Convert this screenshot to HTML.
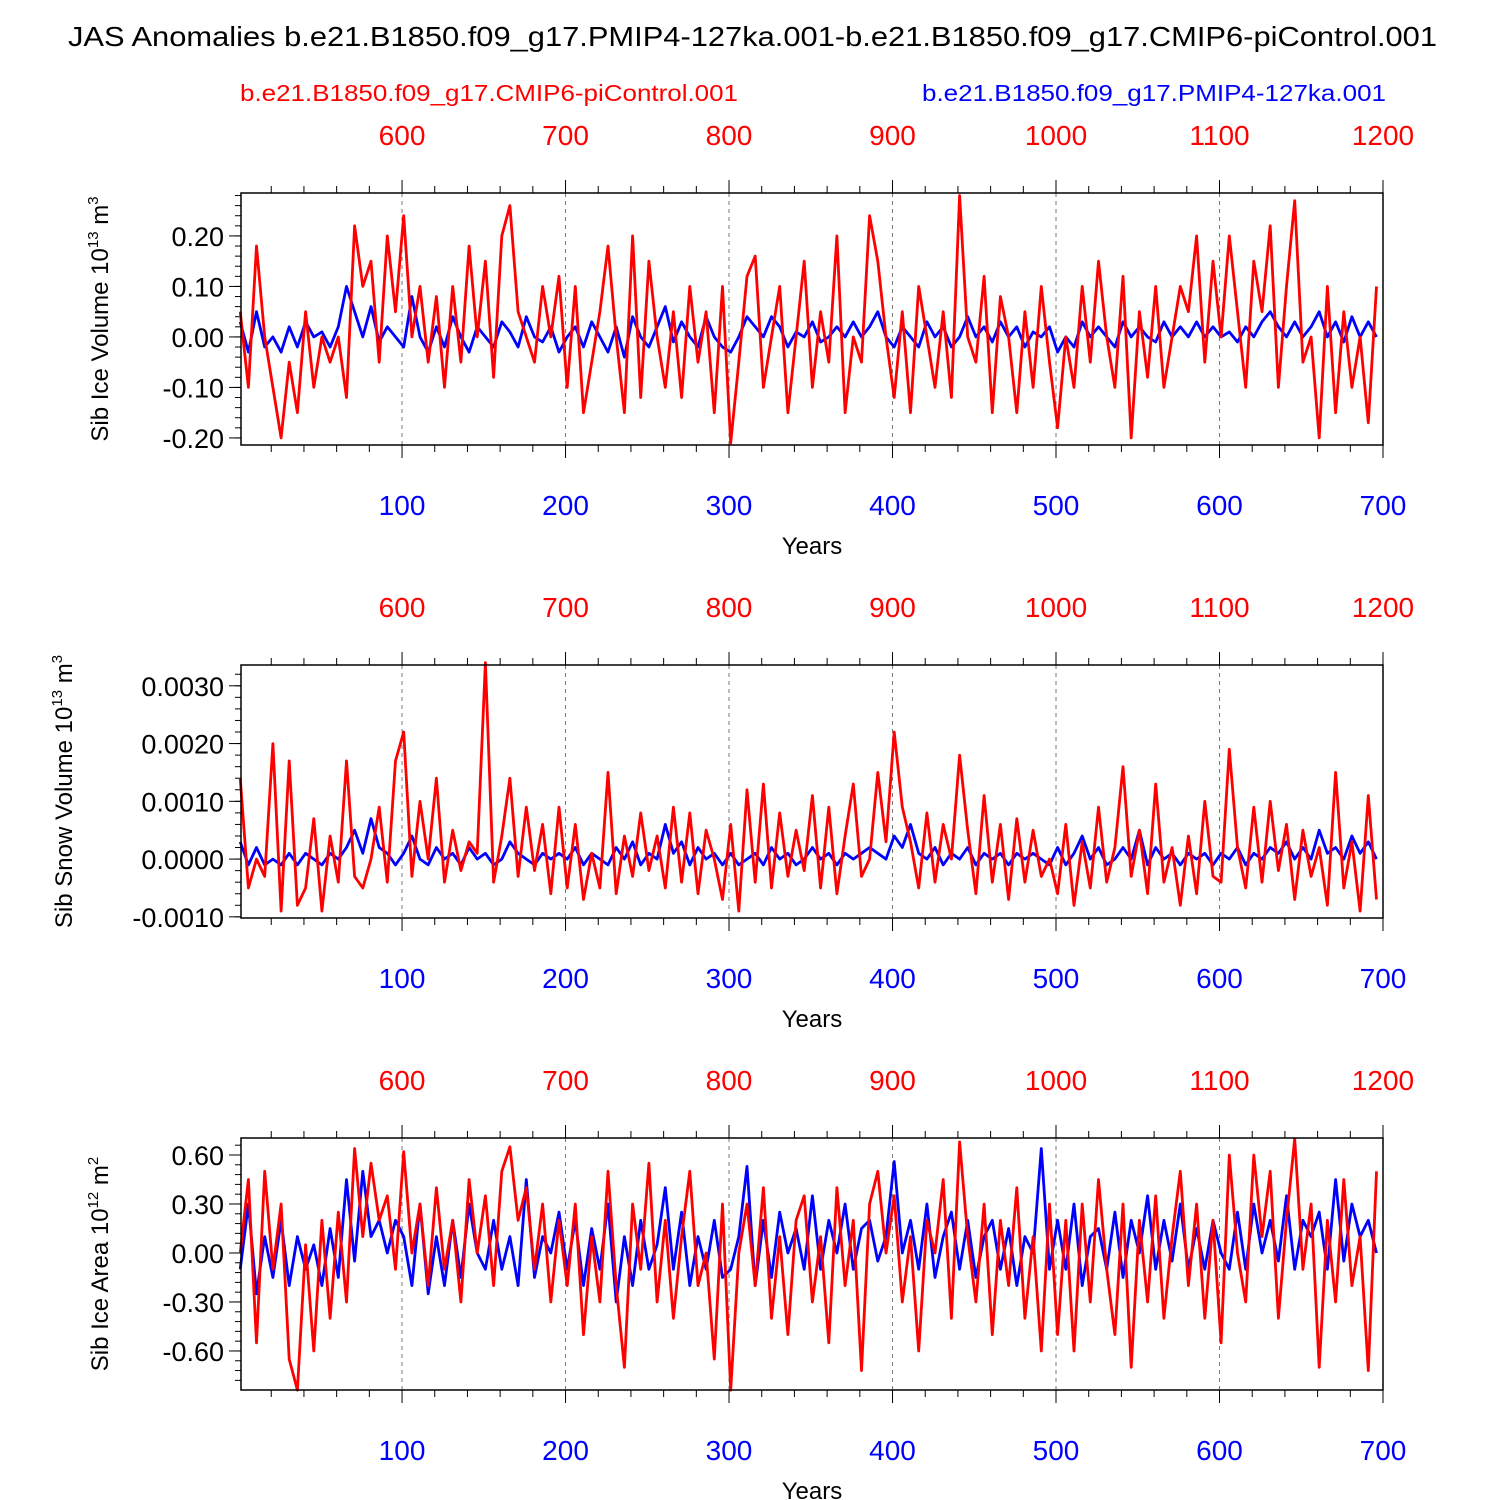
<!DOCTYPE html>
<html><head><meta charset="utf-8"><style>
html,body{margin:0;padding:0;background:#fff;}
svg{display:block;font-family:"Liberation Sans",sans-serif;}
</style></head><body>
<svg id="chart" width="1500" height="1500" viewBox="0 0 1500 1500">
<text x="68" y="46" font-size="28" textLength="1369" lengthAdjust="spacingAndGlyphs" fill="#000">JAS Anomalies b.e21.B1850.f09_g17.PMIP4-127ka.001-b.e21.B1850.f09_g17.CMIP6-piControl.001</text>
<text x="240" y="101" font-size="23" textLength="498" lengthAdjust="spacingAndGlyphs" fill="#ff0000">b.e21.B1850.f09_g17.CMIP6-piControl.001</text>
<text x="922" y="101" font-size="23" textLength="464" lengthAdjust="spacingAndGlyphs" fill="#0000ff">b.e21.B1850.f09_g17.PMIP4-127ka.001</text>
</svg>
<script>
const redIceVol=[0.05,-0.1,0.18,0.0,-0.1,-0.2,-0.05,-0.15,0.05,-0.1,0.0,-0.05,0.0,-0.12,0.22,0.1,0.15,-0.05,0.2,0.05,
0.24,0.0,0.1,-0.05,0.08,-0.1,0.1,-0.05,0.18,0.0,0.15,-0.08,0.2,0.26,0.05,0.0,-0.05,0.1,0.0,0.12,
-0.1,0.1,-0.15,-0.05,0.05,0.18,0.0,-0.15,0.2,-0.12,0.15,0.0,-0.1,0.05,-0.12,0.1,-0.05,0.05,-0.15,0.1,
-0.21,-0.05,0.12,0.16,-0.1,0.0,0.1,-0.15,0.0,0.15,-0.1,0.05,-0.05,0.2,-0.15,0.0,-0.05,0.24,0.15,0.0,
-0.12,0.05,-0.15,0.1,0.0,-0.1,0.05,-0.12,0.28,0.0,-0.05,0.12,-0.15,0.08,0.0,-0.15,0.05,-0.1,0.1,-0.05,
-0.18,0.0,-0.1,0.1,-0.05,0.15,0.0,-0.1,0.12,-0.2,0.05,-0.08,0.1,-0.1,0.0,0.1,0.05,0.2,-0.05,0.15,
0.0,0.2,0.05,-0.1,0.15,0.05,0.22,-0.1,0.1,0.27,-0.05,0.0,-0.2,0.1,-0.15,0.05,-0.1,0.0,-0.17,0.1];
const blueIceVol=[0.03,-0.03,0.05,-0.02,0.0,-0.03,0.02,-0.02,0.03,0.0,0.01,-0.02,0.02,0.1,0.05,0.0,0.06,-0.01,0.02,0.0,
-0.02,0.08,0.0,-0.03,0.02,-0.02,0.04,0.0,-0.03,0.02,0.0,-0.02,0.03,0.01,-0.02,0.04,0.0,-0.01,0.02,-0.03,
0.0,0.02,-0.02,0.03,0.0,-0.03,0.02,-0.04,0.04,0.0,-0.02,0.02,0.06,-0.01,0.03,0.0,-0.02,0.04,0.0,-0.02,
-0.03,0.0,0.04,0.02,0.0,0.04,0.02,-0.02,0.01,0.0,0.03,-0.01,0.0,0.02,0.0,0.03,0.0,0.02,0.05,0.0,
-0.02,0.02,0.0,-0.02,0.03,0.0,0.02,-0.02,0.0,0.04,0.0,0.02,-0.01,0.03,0.0,0.02,-0.02,0.01,0.0,0.02,
-0.03,0.0,-0.02,0.03,0.0,0.02,0.0,-0.02,0.03,0.0,0.02,0.0,-0.01,0.03,0.0,0.02,0.0,0.03,0.0,0.02,
0.0,0.01,-0.01,0.02,0.0,0.03,0.05,0.02,0.0,0.03,0.0,0.02,0.05,0.0,0.03,-0.01,0.04,0.0,0.03,0.0];
const redSnowVol=[0.0014,-0.0005,0.0,-0.0003,0.002,-0.0009,0.0017,-0.0008,-0.0005,0.0007,-0.0009,0.0004,-0.0004,0.0017,-0.0003,-0.0005,0.0,0.0009,-0.0004,0.0017,
0.0022,-0.0003,0.001,0.0,0.0014,-0.0004,0.0005,-0.0002,0.0003,0.0001,0.0034,-0.0004,0.0004,0.0014,-0.0003,0.0009,-0.0002,0.0006,-0.0006,0.0009,
-0.0005,0.0006,-0.0007,0.0001,-0.0005,0.0015,-0.0006,0.0004,-0.0003,0.0008,-0.0002,0.0004,-0.0005,0.0009,-0.0004,0.0008,-0.0006,0.0005,0.0,-0.0007,
0.0006,-0.0009,0.0012,-0.0004,0.0013,-0.0005,0.0008,-0.0003,0.0005,-0.0002,0.0011,-0.0005,0.0009,-0.0006,0.0004,0.0013,-0.0003,0.0,0.0015,0.0003,
0.0022,0.0009,0.0003,-0.0005,0.0008,-0.0004,0.0006,0.0,0.0018,0.0005,-0.0006,0.0011,-0.0004,0.0006,-0.0007,0.0007,-0.0004,0.0005,-0.0003,0.0,
-0.0006,0.0006,-0.0008,0.0003,-0.0005,0.0009,-0.0004,0.0002,0.0016,-0.0003,0.0005,-0.0006,0.0013,-0.0004,0.0002,-0.0008,0.0004,-0.0006,0.001,-0.0003,
-0.0004,0.0019,0.0002,-0.0005,0.0009,-0.0004,0.001,-0.0002,0.0006,-0.0007,0.0005,-0.0003,0.0002,-0.0008,0.0015,-0.0005,0.0003,-0.0009,0.0011,-0.0007];
const blueSnowVol=[0.0003,-0.0001,0.0002,-0.0001,0.0,-0.0001,0.0001,-0.0001,0.0001,0.0,-0.0001,0.0001,0.0,0.0002,0.0005,0.0001,0.0007,0.0002,0.0001,-0.0001,
0.0001,0.0004,0.0,-0.0001,0.0002,0.0,0.0001,-0.0001,0.0002,0.0,0.0001,-0.0001,0.0,0.0003,0.0001,0.0,-0.0001,0.0001,0.0,0.0001,
0.0,0.0002,-0.0001,0.0001,0.0,-0.0001,0.0002,0.0,0.0003,-0.0001,0.0001,0.0,0.0006,0.0001,0.0003,-0.0001,0.0002,0.0,0.0001,-0.0001,
0.0001,-0.0001,0.0,0.0001,-0.0001,0.0002,0.0,0.0001,-0.0001,0.0,0.0002,0.0,0.0001,-0.0001,0.0001,0.0,0.0001,0.0002,0.0001,0.0,
0.0004,0.0002,0.0006,0.0001,0.0,0.0002,-0.0001,0.0001,0.0,0.0002,-0.0001,0.0001,0.0,0.0001,-0.0001,0.0001,0.0,0.0001,0.0,-0.0001,
0.0002,-0.0001,0.0001,0.0004,0.0,0.0002,-0.0001,0.0,0.0002,0.0,0.0005,-0.0001,0.0002,0.0,0.0001,-0.0001,0.0001,0.0,0.0001,-0.0001,
0.0001,0.0,0.0002,-0.0001,0.0001,0.0,0.0002,0.0001,0.0003,0.0,0.0002,0.0,0.0005,0.0001,0.0002,0.0,0.0004,0.0001,0.0003,0.0];
const redIceArea=[0.0,0.45,-0.55,0.5,-0.1,0.3,-0.65,-0.84,0.05,-0.6,0.2,-0.4,0.25,-0.3,0.64,0.1,0.55,0.2,0.35,-0.1,
0.62,0.0,0.3,-0.2,0.4,-0.1,0.2,-0.3,0.45,0.0,0.35,-0.2,0.5,0.65,0.2,0.4,-0.1,0.3,-0.3,0.2,
-0.2,0.3,-0.5,0.1,-0.3,0.5,-0.2,-0.7,0.3,-0.1,0.55,-0.3,0.2,-0.4,0.1,0.5,-0.2,0.0,-0.65,0.3,
-0.84,0.0,0.3,-0.2,0.4,-0.4,0.1,-0.5,0.2,0.35,-0.3,0.1,-0.55,0.4,-0.2,0.2,-0.72,0.3,0.5,0.0,
0.35,-0.3,0.1,-0.6,0.2,0.0,0.45,-0.4,0.68,0.1,-0.3,0.3,-0.5,0.2,-0.2,0.4,-0.4,0.1,-0.6,0.3,
-0.5,0.2,-0.6,0.3,-0.3,0.45,-0.1,-0.5,0.3,-0.7,0.2,-0.3,0.35,-0.4,0.1,0.5,-0.2,0.3,-0.4,0.2,
-0.55,0.6,0.0,-0.3,0.6,0.1,0.5,-0.4,0.2,0.7,-0.1,0.3,-0.7,0.2,-0.3,0.45,-0.2,0.1,-0.72,0.5];
const blueIceArea=[-0.1,0.3,-0.25,0.1,-0.15,0.2,-0.2,0.1,-0.1,0.05,-0.2,0.15,-0.15,0.45,-0.05,0.5,0.1,0.2,0.0,0.2,
0.1,-0.2,0.3,-0.25,0.1,-0.2,0.2,-0.15,0.3,0.0,-0.1,0.2,-0.1,0.1,-0.2,0.45,-0.15,0.1,0.0,0.25,
-0.1,0.2,-0.2,0.15,-0.1,0.3,-0.3,0.1,-0.2,0.2,-0.1,0.05,0.4,-0.1,0.25,-0.2,0.1,-0.1,0.2,-0.15,
-0.1,0.1,0.53,-0.2,0.2,-0.15,0.25,0.0,0.15,-0.1,0.35,-0.1,0.2,0.0,0.3,-0.1,0.15,0.2,-0.05,0.1,
0.56,0.0,0.2,-0.1,0.3,-0.15,0.1,0.25,-0.1,0.2,-0.15,0.1,0.2,-0.1,0.15,-0.2,0.1,0.0,0.64,-0.1,
0.2,-0.1,0.3,-0.2,0.1,0.15,-0.1,0.25,-0.15,0.2,0.0,0.35,-0.1,0.2,-0.05,0.3,-0.1,0.15,-0.1,0.2,
0.0,-0.1,0.25,-0.1,0.3,0.0,0.2,-0.05,0.35,-0.1,0.2,0.1,0.25,-0.1,0.45,-0.05,0.3,0.1,0.2,0.0];
const bottomTicks=[100,200,300,400,500,600,700];
const topTicks=[600,700,800,900,1000,1100,1200];
const ticks1=[-0.2,-0.1,0,0.1,0.2], labels1=["-0.20","-0.10","0.00","0.10","0.20"];
const ticks2=[-0.001,0,0.001,0.002,0.003], labels2=["-0.0010","0.0000","0.0010","0.0020","0.0030"];
const ticks3=[-0.6,-0.3,0,0.3,0.6], labels3=["-0.60","-0.30","0.00","0.30","0.60"];

const NS="http://www.w3.org/2000/svg", svg=document.getElementById('chart');
function mk(tag,attrs,parent){const e=document.createElementNS(NS,tag);for(const k in attrs)e.setAttribute(k,attrs[k]);(parent||svg).appendChild(e);return e;}
const X0=241,X1=1383,yrMin=1.5,yrMax=700;
const xs=v=>X0+(v-yrMin)/(yrMax-yrMin)*(X1-X0);

function panel(p){
  const g=mk('g',{});
  
  
  const ys=v=>p.top+(p.ymax-v)/(p.ymax-p.ymin)*(p.bot-p.top);
  bottomTicks.slice(0,6).forEach(t=>{const l=mk('line',{x1:xs(t),x2:xs(t),y1:p.top,y2:p.bot,stroke:'#777','stroke-width':1,'stroke-dasharray':'4,4'},g);
    });
  for(let t=20;t<=700;t+=20){if(t%100===0)continue;
    mk('line',{x1:xs(t),x2:xs(t),y1:p.bot,y2:p.bot+7,stroke:'#000','stroke-width':1},g);
    mk('line',{x1:xs(t),x2:xs(t),y1:p.top,y2:p.top-7,stroke:'#000','stroke-width':1},g);}
  bottomTicks.forEach(t=>{mk('line',{x1:xs(t),x2:xs(t),y1:p.bot,y2:p.bot+13,stroke:'#000','stroke-width':1},g);
    const tx=mk('text',{x:xs(t),y:p.bot+70,'font-size':28,'text-anchor':'middle',fill:'#0000ff'},g);tx.textContent=t;
    });
  topTicks.forEach(t=>{const x=xs(t-500);mk('line',{x1:x,x2:x,y1:p.top,y2:p.top-13,stroke:'#000','stroke-width':1},g);
    const tx=mk('text',{x:x,y:p.top-48,'font-size':28,'text-anchor':'middle',fill:'#ff0000'},g);tx.textContent=t;
    });
  const step=(p.ticks[1]-p.ticks[0])/5;
  for(let v=p.ticks[0]-5*step;v<=p.ymax+1e-12;v+=step){if(v<p.ymin-1e-12)continue;
    mk('line',{x1:X0,x2:X0-6,y1:ys(v),y2:ys(v),stroke:'#000','stroke-width':1},g);}
  p.ticks.forEach((v,i)=>{mk('line',{x1:X0,x2:X0-12,y1:ys(v),y2:ys(v),stroke:'#000','stroke-width':1},g);
    const tx=mk('text',{x:X0-17,y:ys(v)+10,'font-size':27,'text-anchor':'end',fill:'#000'},g);tx.textContent=p.labels[i];
    });
  [[p.blue,'#0000ff','pmip-line'],[p.red,'#ff0000','control-line']].forEach(([arr,c,n])=>{
    const d=arr.map((v,i)=>(i?'L':'M')+xs(1+5*i).toFixed(1)+','+ys(v).toFixed(1)).join('');
    const path=mk('path',{d:d,fill:'none',stroke:c,'stroke-width':2.8,'stroke-linejoin':'round'},g);
    
    
  });
  const fr=mk('rect',{x:X0,y:p.top,width:X1-X0,height:p.bot-p.top,fill:'none',stroke:'#000','stroke-width':1.5},g);
  
  const xl=mk('text',{x:812,y:p.bot+109,'font-size':24,'text-anchor':'middle',fill:'#000'},g);xl.textContent='Years';
  
  const yt=mk('text',{transform:`translate(${p.ytx},${(p.top+p.bot)/2}) rotate(-90)`,'font-size':24,'text-anchor':'middle',fill:'#000'},g);
  yt.innerHTML=p.ytitle+' 10<tspan dy="-10" font-size="15">'+p.exp+'</tspan><tspan dy="10"> m</tspan><tspan dy="-10" font-size="15">'+p.pw+'</tspan>';
  
}
panel({name:'ice-volume-panel',top:193,bot:445,ymin:-0.214,ymax:0.285,ticks:ticks1,labels:labels1,red:redIceVol,blue:blueIceVol,ytitle:'Sib Ice Volume',exp:'13',pw:'3',ytx:108});
panel({name:'snow-volume-panel',top:665,bot:918,ymin:-0.00102,ymax:0.00336,ticks:ticks2,labels:labels2,red:redSnowVol,blue:blueSnowVol,ytitle:'Sib Snow Volume',exp:'13',pw:'3',ytx:72});
panel({name:'ice-area-panel',top:1138,bot:1390,ymin:-0.839,ymax:0.704,ticks:ticks3,labels:labels3,red:redIceArea,blue:blueIceArea,ytitle:'Sib Ice Area',exp:'12',pw:'2',ytx:108});
</script>
</body></html>
